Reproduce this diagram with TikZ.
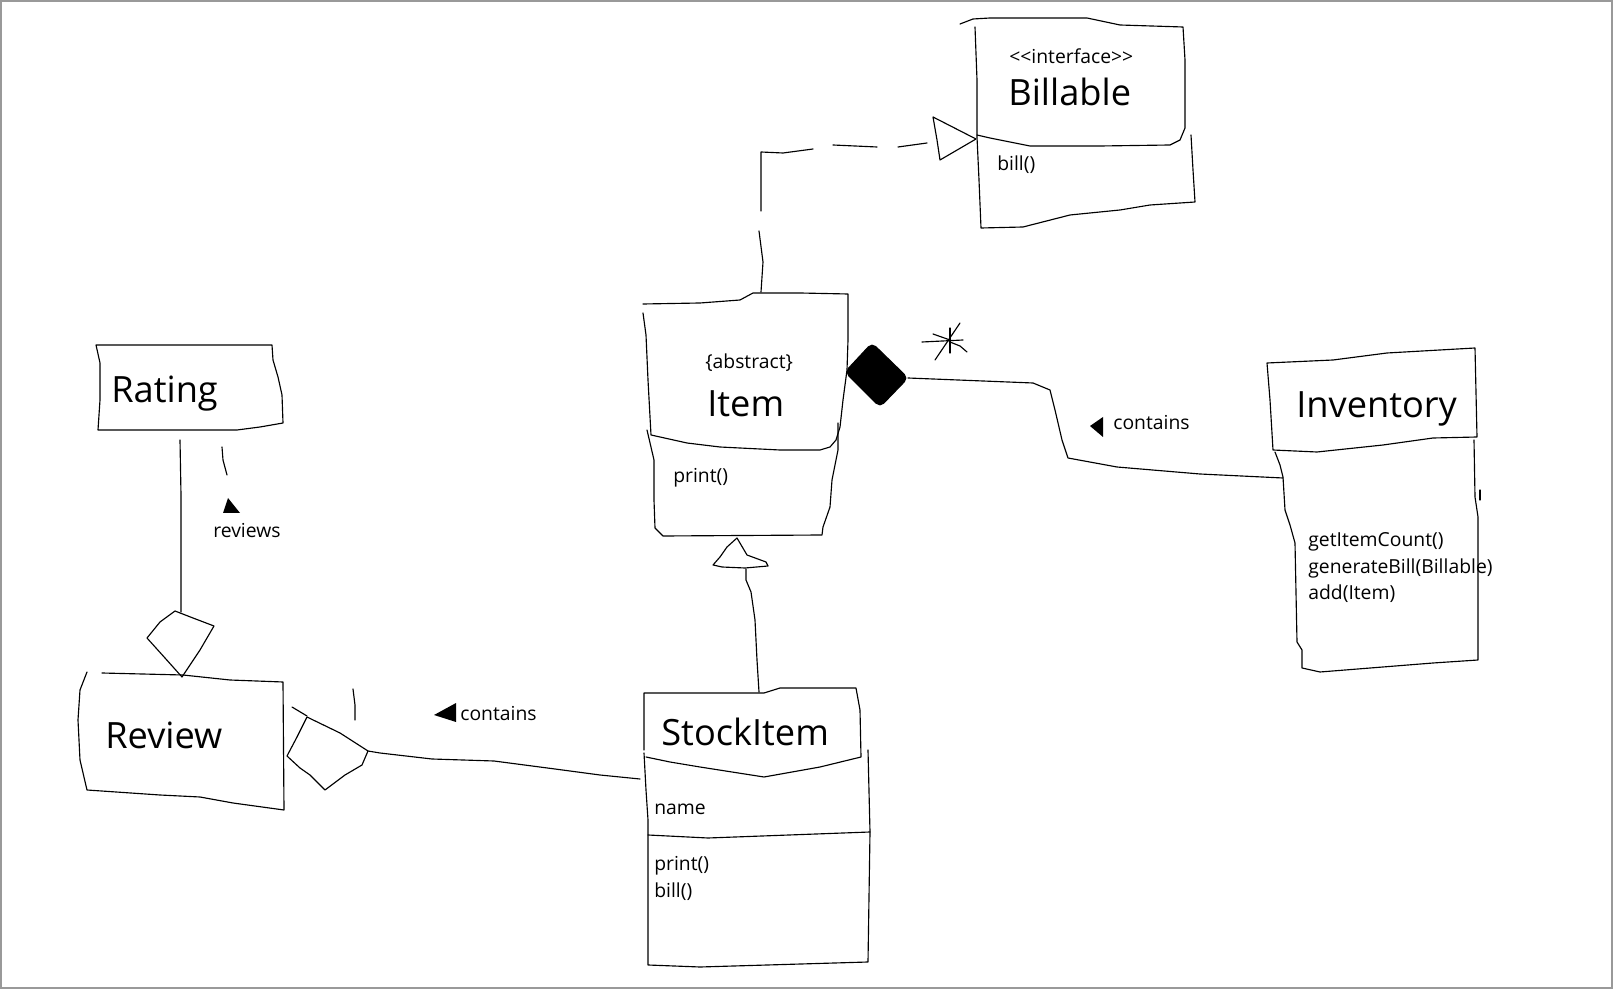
\documentclass[tikz,border=0pt]{standalone}
\usepackage{fontspec}
\setmainfont{Open Sans}
\tikzset{
  sk/.style={line width=0.65pt, line join=round, line cap=round},
  bigtxt/.style={font=\fontsize{20.6}{24}\selectfont, inner sep=0pt, anchor=base west},
  smalltxt/.style={font=\fontsize{11}{13}\selectfont, inner sep=0pt, anchor=base west},
  frame/.style={draw=black!40, line width=1.2pt}
}
\begin{document}
\begin{tikzpicture}[x=0.02cm,y=-0.02cm]
\useasboundingbox (0,0) rectangle (1613,989);
\draw[frame] (1,1) rectangle (1612,988);

% ---------- Billable ----------
\draw[sk] (960,24) -- (973,19) -- (990,18) -- (1087,18) -- (1120,25) -- (1183,27) -- (1185,60) -- (1185,128) -- (1180,140) -- (1170,145) -- (1100,146) -- (1030,146) -- (990,138) -- (977,135);
\draw[sk] (975,27) -- (977,80) -- (977,137) -- (979,180) -- (981,228) -- (1023,227) -- (1070,215) -- (1120,210) -- (1150,205) -- (1195,202) -- (1193,170) -- (1191,135);
\node[smalltxt] (bilSt) at (1009,64) {{<}{<}interface{>}{>}};
\node[bigtxt] (bilName) at (1008,106) {Billable};
\node[smalltxt] (bilOp) at (997,171) {bill()};

% ---------- Item ----------
\draw[sk] (643,304) -- (700,303) -- (740,300) -- (753,293) -- (800,293) -- (848,294) -- (848,340) -- (847,370) -- (843,400) -- (840,427) -- (836,440) -- (830,447) -- (820,450) -- (780,450) -- (720,447) -- (687,443) -- (660,437) -- (651,435) -- (648,380) -- (646,335) -- (643,313);
\draw[sk] (647,430) -- (654,460) -- (654,500) -- (655,528) -- (663,536) -- (822,535) -- (823,527) -- (830,507) -- (832,480) -- (838,450) -- (838,423);
\node[smalltxt] (itemSt) at (705,369) {\{abstract\}};
\node[bigtxt] (itemName) at (707,417) {Item};
\node[smalltxt] (itemOp) at (673,483) {print()};

% ---------- Inventory ----------
\draw[sk] (1273,450) -- (1270,400) -- (1267,363) -- (1333,360) -- (1387,353) -- (1475,348) -- (1477,437) -- (1433,438) -- (1383,445) -- (1317,452) -- (1273,450);
\draw[sk] (1275,452) -- (1280,465) -- (1283,477) -- (1285,510) -- (1290,525) -- (1295,543) -- (1297,642) -- (1302,650) -- (1302,668) -- (1320,672) -- (1433,663) -- (1478,660) -- (1478,517) -- (1475,497) -- (1474,440);
\draw[sk] (1480,490) -- (1480,500);
\node[bigtxt] (invName) at (1296,418) {Inventory};
\node[smalltxt] (invOp1) at (1308,547) {getItemCount()};
\node[smalltxt] (invOp2) at (1308,574) {generateBill(Billable)};
\node[smalltxt] (invOp3) at (1308,600) {add(Item)};

% ---------- Rating ----------
\draw[sk] (96,345) -- (272,345) -- (273,360) -- (278,377) -- (282,395) -- (283,423) -- (260,427) -- (237,430) -- (98,430) -- (100,400) -- (100,363) -- (96,345);
\node[bigtxt] (ratName) at (111,403) {Rating};

% ---------- Review ----------
\draw[sk] (87,672) -- (80,690) -- (78,720) -- (80,760) -- (87,790) -- (160,795) -- (200,797) -- (233,803) -- (284,810) -- (283,682) -- (230,680) -- (183,675) -- (102,673);
\node[bigtxt] (revName) at (105,748) {Review};

% ---------- StockItem ----------
\draw[sk] (644,750) -- (644,693) -- (764,693) -- (780,688) -- (856,688) -- (860,710) -- (861,757) -- (820,767) -- (764,777) -- (700,767) -- (670,762) -- (646,757);
\draw[sk] (644,753) -- (646,790) -- (648,820) -- (648,965) -- (700,967) -- (868,962) -- (870,832) -- (868,750);
\draw[sk] (648,835) -- (708,838) -- (870,832);
\node[bigtxt] (stkName) at (661,745) {StockItem};
\node[smalltxt] (stkAttr) at (654,814) {name};
\node[smalltxt] (stkOp1) at (654,870) {print()};
\node[smalltxt] (stkOp2) at (654,897) {bill()};

% ---------- connector end points ----------
\coordinate (itemTop) at (761,292);
\coordinate (billLeft) at (976,139);
\coordinate (itemRight) at (845,372);
\coordinate (diaR) at (908,378);
\coordinate (invLeft) at (1283,478);
\coordinate (ratingBottom) at (180,440);
\coordinate (dia1Top) at (175,611);
\coordinate (dia2R) at (368,751);
\coordinate (stockLeft) at (640,779);
\coordinate (stockTop) at (759,692);
\coordinate (itemBottom) at (737,538);

% Item ..|> Billable (dashed realization)
\draw[sk] (itemTop) -- (763,262) -- (759,231);
\draw[sk] (761,211) -- (761,152) -- (783,153) -- (813,149);
\draw[sk] (833,145) -- (877,147);
\draw[sk] (898,147) -- (927,143);
\draw[sk] (933,117) -- (billLeft) -- (940,160) -- (937,140) -- cycle;

% Inventory *-- Item (composition)
\filldraw[sk, rounded corners=3] (itemRight) -- (872,343) -- (diaR) -- (880,407) -- cycle;
\draw[sk] (diaR) -- (1033,383) -- (1050,390) -- (1055,410) -- (1062,440) -- (1068,458) -- (1117,467) -- (1200,474) -- (invLeft);
\draw[sk] (922,342) -- (963,340);
\draw[sk] (950,328) -- (950,353);
\draw[sk] (935,360) -- (960,323);
\draw[sk] (950,342) -- (960,346) -- (967,352);
\draw[sk] (933,334) -- (950,340);
\fill (1090,426) -- (1103,417) -- (1103,437) -- cycle;
\node[smalltxt] (lblInv) at (1113,430) {contains};

% StockItem --|> Item (generalization)
\draw[sk] (stockTop) -- (757,660) -- (755,620) -- (751,592) -- (746,580) -- (746,569);
\draw[sk] (itemBottom) -- (727,547) -- (720,557) -- (713,565) -- (722,567) -- (745,568) -- (768,566) -- (766,562) -- (747,555) -- cycle;

% Review <>-- Rating (aggregation)
\draw[sk] (ratingBottom) -- (181,495) -- (181,612);
\draw[sk] (dia1Top) -- (193,618) -- (214,626) -- (200,650) -- (182,677) -- (165,658) -- (147,638) -- (160,622) -- cycle;
\draw[sk] (222,447) -- (223,460) -- (227,475);
\fill (223,513) -- (240,513) -- (228,498) -- cycle;
\node[smalltxt] (lblRev) at (213,538) {reviews};

% Review <>-- StockItem (aggregation)
\draw[sk] (287,756) -- (297,737) -- (307,717) -- (340,733) -- (dia2R) -- (362,765) -- (345,775) -- (325,790) -- (310,775) -- (300,768) -- cycle;
\draw[sk] (292,707) -- (307,716);
\draw[sk] (353,689) -- (355,705) -- (355,720);
\draw[sk] (dia2R) -- (380,753) -- (432,759) -- (494,761) -- (555,769) -- (600,775) -- (stockLeft);
\fill (434,715) -- (456,703) -- (456,722) -- cycle;
\node[smalltxt] (lblStk) at (460,720) {contains};
\end{tikzpicture}
\end{document}
